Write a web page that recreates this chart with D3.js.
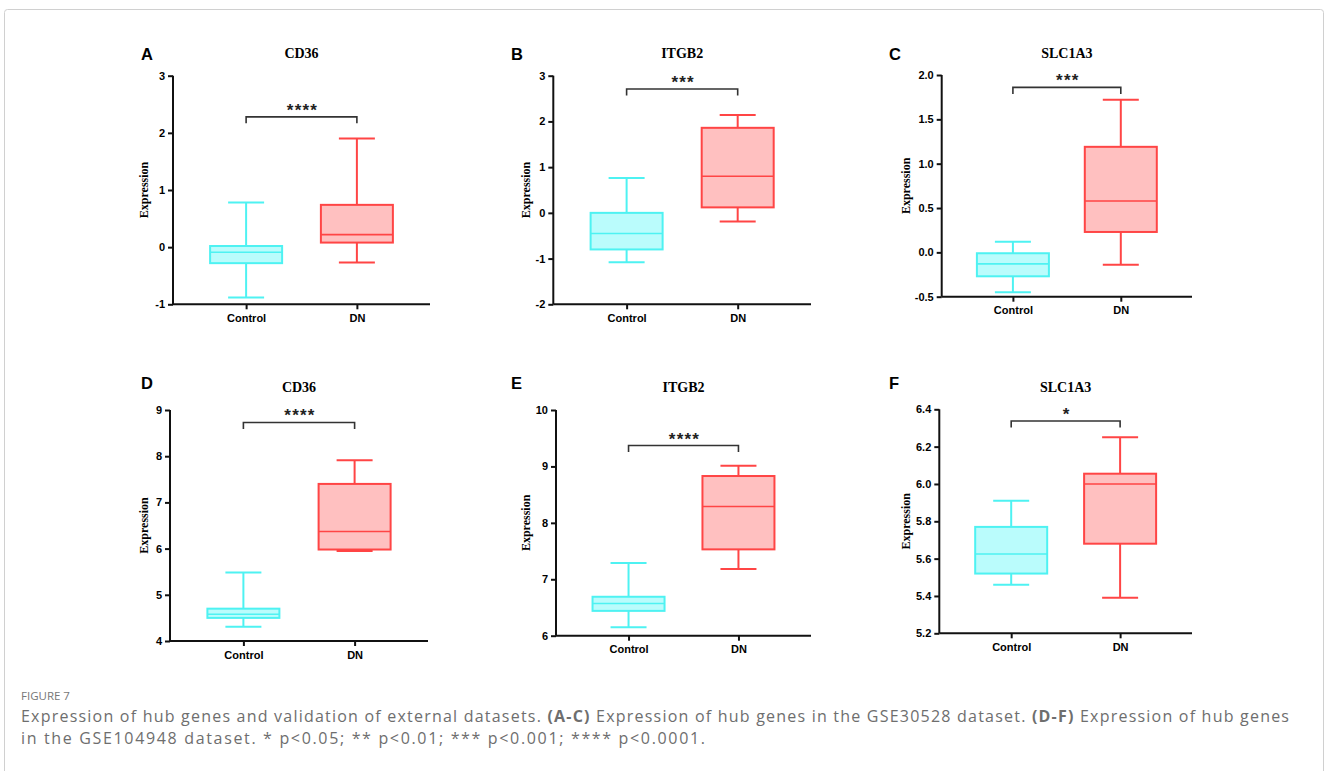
<!DOCTYPE html>
<html>
<head>
<meta charset="utf-8">
<script src="https://cdn.jsdelivr.net/npm/d3@7"></script>
<style>
  html, body { margin: 0; padding: 0; background: #fff; }
  svg { display: block; }
</style>
</head>
<body>
<svg id="chart" width="1328" height="771"></svg>
<script>
// ---------------- DATA ----------------
const panelLetters = ['A', 'B', 'C', 'D', 'E', 'F'];
const geneTitles = ['CD36', 'ITGB2', 'SLC1A3', 'CD36', 'ITGB2', 'SLC1A3'];
const groups = ['Control', 'DN'];
// box stats: [min, q1, median, q3, max]
const controlStats = [
  [-0.88, -0.28, -0.09, 0.02, 0.78],
  [-1.08, -0.80, -0.45, 0.00, 0.76],
  [-0.45, -0.27, -0.13, -0.01, 0.12],
  [4.31, 4.50, 4.58, 4.70, 5.48],
  [6.15, 6.44, 6.57, 6.69, 7.29],
  [5.46, 5.52, 5.625, 5.77, 5.91]
];
const dnStats = [
  [-0.27, 0.08, 0.22, 0.74, 1.90],
  [-0.19, 0.12, 0.80, 1.86, 2.14],
  [-0.14, 0.23, 0.58, 1.19, 1.72],
  [5.95, 5.98, 6.37, 7.40, 7.91],
  [7.18, 7.53, 8.29, 8.83, 9.01],
  [5.39, 5.68, 6.00, 6.055, 6.25]
];
const yDomains = [[-1, 3], [-2, 3], [-0.5, 2.0], [4, 9], [6, 10], [5.2, 6.4]];
const yTickValues = [
  [-1, 0, 1, 2, 3],
  [-2, -1, 0, 1, 2, 3],
  [-0.5, 0, 0.5, 1.0, 1.5, 2.0],
  [4, 5, 6, 7, 8, 9],
  [6, 7, 8, 9, 10],
  [5.2, 5.4, 5.6, 5.8, 6.0, 6.2, 6.4]
];
const yTickDecimals = [0, 0, 1, 0, 0, 1];
const sigLabels = ['****', '***', '***', '****', '****', '*'];
const bracketValues = [2.28, 2.71, 1.86, 8.73, 9.37, 6.337];
const yAxisLabel = 'Expression';
const captionHead = 'FIGURE 7';

// ---------------- LAYOUT / STYLE ----------------
const layout = [
  { x0: 173,   x1: 430,  yTop: 75.7,  yBot: 304.3, letterX: 141, letterY: 59.5,  titleY: 57.5,  labelX: 148 },
  { x0: 553.3, x1: 811,  yTop: 75.7,  yBot: 304.3, letterX: 511, letterY: 59.5,  titleY: 57.5,  labelX: 530 },
  { x0: 941.7, x1: 1192, yTop: 75,    yBot: 296.7, letterX: 889, letterY: 59.5,  titleY: 57.5,  labelX: 910 },
  { x0: 170,   x1: 428,  yTop: 410,   yBot: 641,   letterX: 141, letterY: 388.5, titleY: 392,   labelX: 148 },
  { x0: 556,   x1: 811,  yTop: 410,   yBot: 635.7, letterX: 511, letterY: 388.5, titleY: 392,   labelX: 530 },
  { x0: 939.3, x1: 1192, yTop: 409.3, yBot: 633.3, letterX: 889, letterY: 388.5, titleY: 392,   labelX: 910 }
];
const groupStroke = { Control: '#4ef2f2', DN: '#ff4545' };
const groupFill = { Control: '#bafcfc', DN: '#ffc0c0' };
const boxWidth = 72;
const capWidth = 36;

const svg = d3.select('#chart');

// figure border
svg.append('rect')
  .attr('x', 4.5).attr('y', 9.5)
  .attr('width', 1319).attr('height', 790)
  .attr('rx', 3)
  .attr('fill', 'none')
  .attr('stroke', '#d0d0d0')
  .attr('stroke-width', 1);

panelLetters.forEach((letter, i) => {
  const L = layout[i];
  const g = svg.append('g');
  const x = d3.scalePoint().domain(groups).range([L.x0, L.x1]).padding(0.66);
  const y = d3.scaleLinear().domain(yDomains[i]).range([L.yBot, L.yTop]);

  g.append('text')
    .attr('x', L.letterX).attr('y', L.letterY)
    .attr('font-family', 'Liberation Sans, Arial, sans-serif')
    .attr('font-weight', 'bold').attr('font-size', 16.5)
    .attr('fill', '#000')
    .text(letter);

  g.append('text')
    .attr('x', (L.x0 + L.x1) / 2).attr('y', L.titleY)
    .attr('text-anchor', 'middle')
    .attr('font-family', 'Liberation Serif, Times New Roman, serif')
    .attr('font-weight', 'bold').attr('font-size', 14)
    .attr('fill', '#000')
    .text(geneTitles[i]);

  g.append('text')
    .attr('transform', `translate(${L.labelX},${(L.yTop + L.yBot) / 2}) rotate(-90)`)
    .attr('text-anchor', 'middle')
    .attr('font-family', 'Liberation Serif, Times New Roman, serif')
    .attr('font-weight', 'bold').attr('font-size', 12)
    .attr('fill', '#000')
    .text(yAxisLabel);

  const stats = { Control: controlStats[i], DN: dnStats[i] };
  groups.forEach(gr => {
    const s = stats[gr];
    const cx = x(gr);
    const bg = g.append('g');
    bg.append('line')
      .attr('x1', cx).attr('x2', cx)
      .attr('y1', y(s[0])).attr('y2', y(s[1]))
      .attr('stroke', groupStroke[gr]).attr('stroke-width', 2);
    bg.append('line')
      .attr('x1', cx).attr('x2', cx)
      .attr('y1', y(s[3])).attr('y2', y(s[4]))
      .attr('stroke', groupStroke[gr]).attr('stroke-width', 2);
    [s[0], s[4]].forEach(v => {
      bg.append('line')
        .attr('x1', cx - capWidth / 2).attr('x2', cx + capWidth / 2)
        .attr('y1', y(v)).attr('y2', y(v))
        .attr('stroke', groupStroke[gr]).attr('stroke-width', 2);
    });
    bg.append('rect')
      .attr('x', cx - boxWidth / 2).attr('width', boxWidth)
      .attr('y', y(s[3])).attr('height', y(s[1]) - y(s[3]))
      .attr('fill', groupFill[gr])
      .attr('stroke', groupStroke[gr]).attr('stroke-width', 2);
    bg.append('line')
      .attr('x1', cx - boxWidth / 2).attr('x2', cx + boxWidth / 2)
      .attr('y1', y(s[2])).attr('y2', y(s[2]))
      .attr('stroke', groupStroke[gr]).attr('stroke-width', 1.6);
  });

  const dec = yTickDecimals[i];
  const yAxis = d3.axisLeft(y)
    .tickValues(yTickValues[i])
    .tickFormat(v => v.toFixed(dec))
    .tickSize(5).tickPadding(3).tickSizeOuter(0);
  const ya = g.append('g').attr('transform', `translate(${L.x0},0)`).call(yAxis);
  const xAxis = d3.axisBottom(x).tickSize(5).tickPadding(5).tickSizeOuter(0);
  const xa = g.append('g').attr('transform', `translate(0,${L.yBot})`).call(xAxis);
  xa.select('.domain').attr('d', `M${L.x0},0H${L.x1}`);
  ya.select('.domain').attr('d', `M0,${L.yTop}V${L.yBot}`);
  [ya, xa].forEach(a => {
    a.selectAll('.domain, .tick line').attr('stroke', '#111').attr('stroke-width', 2);
    a.selectAll('.tick text')
      .attr('font-family', 'Liberation Sans, Arial, sans-serif')
      .attr('font-weight', 'bold').attr('font-size', 11)
      .attr('fill', '#000');
  });

  const by = y(bracketValues[i]);
  const bx1 = x('Control'), bx2 = x('DN');
  g.append('path')
    .attr('d', `M${bx1},${by + 6.5}V${by}H${bx2}V${by + 6.5}`)
    .attr('fill', 'none').attr('stroke', '#333').attr('stroke-width', 1.6);
  g.append('text')
    .attr('x', (bx1 + bx2) / 2 + 1).attr('y', by - 1)
    .attr('text-anchor', 'middle')
    .attr('font-family', 'Liberation Sans, Arial, sans-serif')
    .attr('font-weight', 'bold').attr('font-size', 17)
    .attr('letter-spacing', 1.2)
    .attr('fill', '#222')
    .text(sigLabels[i]);
});

// caption
const cap = svg.append('g').attr('font-family', 'Open Sans, Lato, sans-serif');
cap.append('text')
  .attr('x', 21).attr('y', 700)
  .attr('font-size', 11.5).attr('fill', '#777')
  .text(captionHead);
const line1 = cap.append('text').attr('x', 21).attr('y', 722)
  .attr('font-size', 16).attr('fill', '#6e6e6e')
  .attr('textLength', 1268).attr('lengthAdjust', 'spacing');
line1.append('tspan').text('Expression of hub genes and validation of external datasets. ');
line1.append('tspan').attr('font-weight', 'bold').text('(A-C)');
line1.append('tspan').text(' Expression of hub genes in the GSE30528 dataset. ');
line1.append('tspan').attr('font-weight', 'bold').text('(D-F)');
line1.append('tspan').text(' Expression of hub genes');
cap.append('text').attr('x', 21).attr('y', 744)
  .attr('font-size', 16).attr('fill', '#6e6e6e')
  .attr('textLength', 684).attr('lengthAdjust', 'spacing')
  .text('in the GSE104948 dataset. * p<0.05; ** p<0.01; *** p<0.001; **** p<0.0001.');
</script>
</body>
</html>
